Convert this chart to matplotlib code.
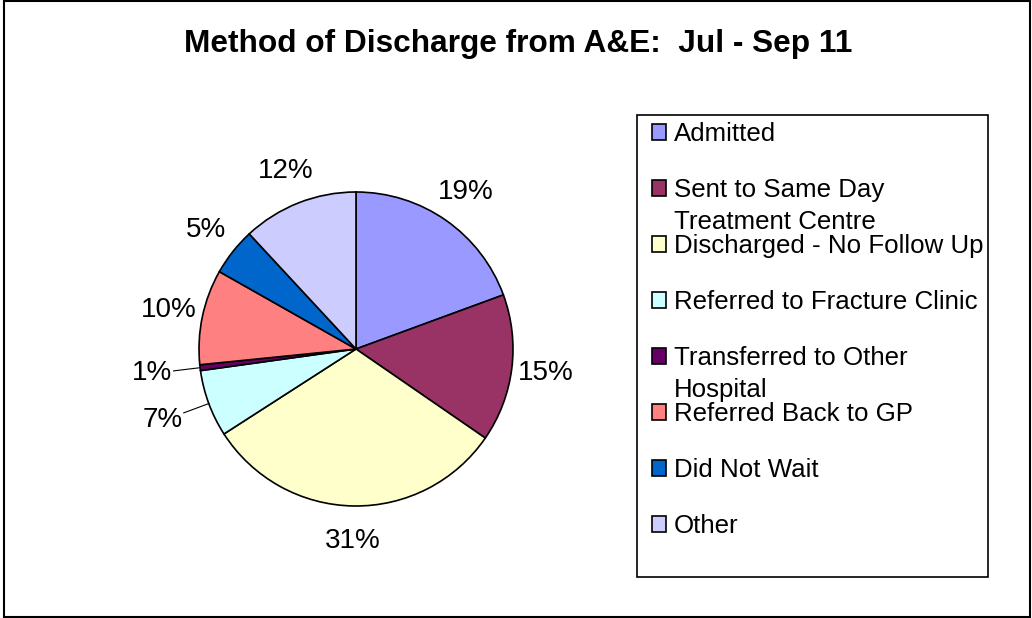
import numpy as np
import matplotlib
matplotlib.use("Agg")
import matplotlib.pyplot as plt
from matplotlib.patches import Rectangle

plt.rcParams['font.family'] = ['Liberation Sans', 'DejaVu Sans']

# Method of discharge, share of attendances (%)
categories = ['Admitted', 'Sent to Same Day\nTreatment Centre', 'Discharged - No Follow Up',
              'Referred to Fracture Clinic', 'Transferred to Other\nHospital',
              'Referred Back to GP', 'Did Not Wait', 'Other']
shares = [19.4, 15.2, 31.3, 6.9, 0.6, 9.8, 4.9, 11.9]
colors = ['#9999FF', '#993366', '#FFFFCC', '#CCFFFF', '#660066', '#FF8080', '#0066CC', '#CCCCFF']
leader_slices = [3, 4]  # small slices labelled with a leader line

W, H = 1032, 618
fig = plt.figure(figsize=(W / 100, H / 100), dpi=100)

# outer chart border
fig.patches.append(Rectangle((4 / W, 1 / H), 1026 / W, 616 / H, transform=fig.transFigure,
                             fill=False, edgecolor='black', linewidth=1.5))

fig.text(518 / W, 1 - 44 / H, 'Method of Discharge from A&E:  Jul - Sep 11',
         ha='center', va='center', fontsize=22.8, fontweight='bold')

# pie: centre (356, 349) px, radius ~157 px -> axes half size 1.25*r
r_px = 157
half = 1.25 * r_px
ax = fig.add_axes([(356 - half) / W, (H - 349 - half) / H, 2 * half / W, 2 * half / H])
wedges, texts, autotexts = ax.pie(shares, colors=colors, startangle=90, counterclock=False,
                                  autopct=lambda p: f'{p:.0f}%', pctdistance=1.22,
                                  wedgeprops=dict(edgecolor='black', linewidth=1.2),
                                  textprops=dict(fontsize=20))

# small slices: push the label out and add a leader line
for i in leader_slices:
    w = wedges[i]
    ang = np.deg2rad((w.theta1 + w.theta2) / 2)
    d = np.array([np.cos(ang), np.sin(ang)])
    autotexts[i].set_position(1.31 * d)
    ax.plot([1.0 * d[0], 1.17 * d[0]], [1.0 * d[1], 1.17 * d[1]], color='black',
            linewidth=0.8, clip_on=False)

# legend frame
fig.patches.append(Rectangle((637 / W, (H - 577) / H), 351 / W, 462 / H, transform=fig.transFigure,
                             fill=False, edgecolor='black', linewidth=1.2))

first_lines = [c.split('\n')[0] for c in categories]
leg = ax.legend(wedges, first_lines, loc='upper left', bbox_to_anchor=(652 / W, 1 - 122 / H),
                bbox_transform=fig.transFigure, frameon=False, fontsize=18.6,
                handlelength=0.55, handleheight=0.55, handletextpad=0.3,
                labelspacing=1.24, borderpad=0, borderaxespad=0)

fig.canvas.draw()
renderer = fig.canvas.get_renderer()
for txt, cat in zip(leg.get_texts(), categories):
    if '\n' in cat:
        bb = txt.get_window_extent(renderer)
        fig.text(bb.x0 / W, (bb.y0 - 8) / H, cat.split('\n')[1], ha='left', va='top',
                 fontsize=18.6)

fig.savefig('out.png', dpi=100)
